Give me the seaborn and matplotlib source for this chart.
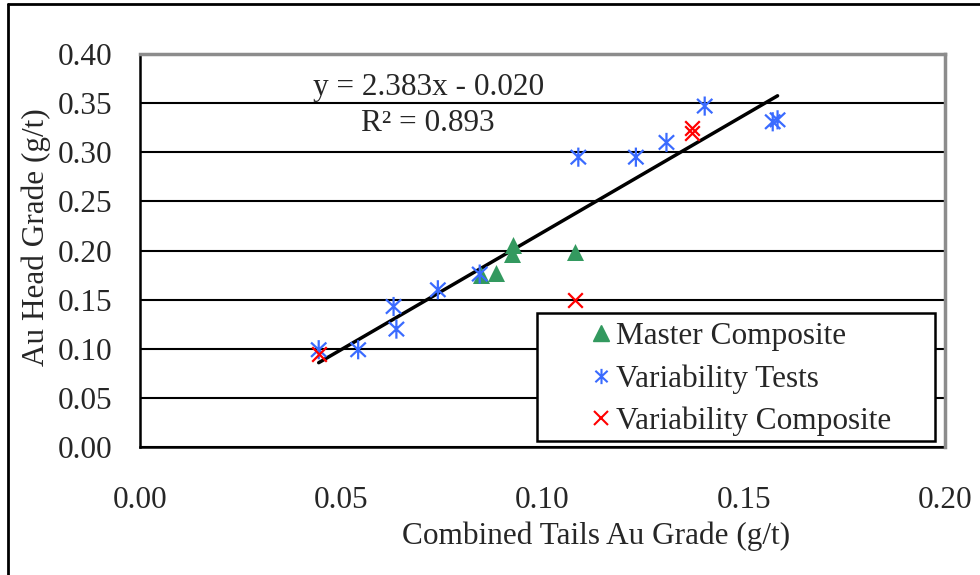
import numpy as np
import pandas as pd
import matplotlib
matplotlib.use("Agg")
import matplotlib.pyplot as plt
from matplotlib.path import Path
from matplotlib.lines import Line2D
from matplotlib.patches import Rectangle
import seaborn as sns

# ─── DATA ───────────────────────────────────────────────────────
master_x = [0.0927, 0.0924, 0.0885, 0.0846, 0.1080]
master_y = [0.206, 0.196, 0.177, 0.175, 0.198]

var_tests_x = [0.0444, 0.0542, 0.0630, 0.0637, 0.0740, 0.0844,
               0.1089, 0.1232, 0.1308, 0.1403, 0.1572, 0.1584]
var_tests_y = [0.099, 0.099, 0.143, 0.120, 0.160, 0.176,
               0.295, 0.295, 0.310, 0.347, 0.331, 0.333]

var_comp_x = [0.0444, 0.1080, 0.1372, 0.1372]
var_comp_y = [0.0950, 0.1500, 0.3250, 0.3200]

slope, intercept, r2 = 2.383, -0.020, 0.893

x_ticks = [0.00, 0.05, 0.10, 0.15, 0.20]
y_ticks = [0.00, 0.05, 0.10, 0.15, 0.20, 0.25, 0.30, 0.35, 0.40]
# ────────────────────────────────────────────────────────────────

df = pd.concat([
    pd.DataFrame({"x": master_x, "y": master_y, "series": "Master Composite"}),
    pd.DataFrame({"x": var_tests_x, "y": var_tests_y, "series": "Variability Tests"}),
    pd.DataFrame({"x": var_comp_x, "y": var_comp_y, "series": "Variability Composite"}),
])

sns.set_style("white")
plt.rcParams["font.family"] = ["Liberation Serif", "DejaVu Serif"]
FS = 22.5

GREEN = "#33995F"
BLUE = "#3A6BFF"
RED = "#FF0000"

# asterisk marker: vertical bar + an X
asterisk = Path(
    [(0, -1), (0, 1), (-0.8, -0.75), (0.8, 0.75), (-0.8, 0.75), (0.8, -0.75)],
    [Path.MOVETO, Path.LINETO, Path.MOVETO, Path.LINETO, Path.MOVETO, Path.LINETO],
)

fig = plt.figure(figsize=(9.8, 5.75), dpi=100)
ax = fig.add_axes([140 / 980, 1 - 447 / 575, 805 / 980, 393 / 575])

# trend line from the fitted equation, over the data x range
xs = np.array([df["x"].min(), df["x"].max()])
ax.plot(xs, slope * xs + intercept, color="black", lw=2.5, zorder=2)

sub = df[df.series == "Master Composite"]
sns.scatterplot(data=sub, x="x", y="y", marker="^", s=150, color=GREEN,
                edgecolor=GREEN, linewidth=0, ax=ax, zorder=3, legend=False)
sub = df[df.series == "Variability Tests"]
sns.scatterplot(data=sub, x="x", y="y", marker=asterisk, s=190, facecolor="none",
                edgecolor=BLUE, linewidth=1.6, ax=ax, zorder=3, legend=False)
sub = df[df.series == "Variability Composite"]
sns.scatterplot(data=sub, x="x", y="y", marker="x", s=110, color=RED,
                linewidth=1.6, ax=ax, zorder=3, legend=False)

ax.set_xlim(0, 0.20)
ax.set_ylim(0, 0.40)
ax.set_xticks(x_ticks)
ax.set_yticks(y_ticks)
ax.set_xticklabels([f"{t:.2f}" for t in x_ticks])
ax.set_yticklabels([f"{t:.2f}" for t in y_ticks])
ax.tick_params(axis="both", direction="out", length=8, width=1.5, color="black",
               labelsize=FS)
ax.tick_params(axis="x", pad=20)
ax.tick_params(axis="y", pad=12)

ax.set_axisbelow(True)
ax.yaxis.grid(True, color="black", lw=1.5)
ax.xaxis.grid(False)
for side in ["left", "bottom"]:
    ax.spines[side].set_color("black")
    ax.spines[side].set_linewidth(1.8)
for side in ["top", "right"]:
    ax.spines[side].set_color("#8C8C8C")
    ax.spines[side].set_linewidth(2.5)
    ax.spines[side].set_zorder(5)

ax.set_xlabel("Combined Tails Au Grade (g/t)", fontsize=FS)
ax.set_ylabel("Au Head Grade (g/t)", fontsize=FS)
ax.xaxis.set_label_coords(0.567, -0.19)
ax.yaxis.set_label_coords(-0.11, 0.535)

ax.text(0.0716, 0.366, f"y = {slope:.3f}x - {abs(intercept):.3f}",
        ha="center", va="center", fontsize=FS)
ax.text(0.0716, 0.329, f"R² = {r2:.3f}", ha="center", va="center", fontsize=FS)

# legend box (wide left margin like the original)
fig.add_artist(Rectangle((537 / 980, 1 - 441 / 575), 398 / 980, 128 / 575,
                         transform=fig.transFigure, facecolor="white",
                         edgecolor="black", lw=1.8, zorder=6))

handles = [
    Line2D([], [], ls="none", marker="^", ms=11, color=GREEN, mec=GREEN),
    Line2D([], [], ls="none", marker=asterisk, ms=11, mfc="none", mec=BLUE, mew=1.5),
    Line2D([], [], ls="none", marker="x", ms=10, color=RED, mew=1.5),
]
labels = ["Master Composite", "Variability Tests", "Variability Composite"]
leg = fig.legend(handles, labels, loc="center",
                 bbox_to_anchor=(740 / 980, 1 - 379 / 575),
                 fontsize=FS, frameon=False,
                 handletextpad=0.1, handlelength=0.8, borderpad=0.0,
                 labelspacing=0.42, borderaxespad=0)
leg.set_zorder(7)

# outer chart border (top and left visible)
fig.add_artist(Line2D([8 / 980, 1], [1 - 4 / 575, 1 - 4 / 575],
                      transform=fig.transFigure, color="black", lw=2))
fig.add_artist(Line2D([8 / 980, 8 / 980], [0, 1 - 4 / 575],
                      transform=fig.transFigure, color="black", lw=2))

fig.savefig("out.png", dpi=100)
